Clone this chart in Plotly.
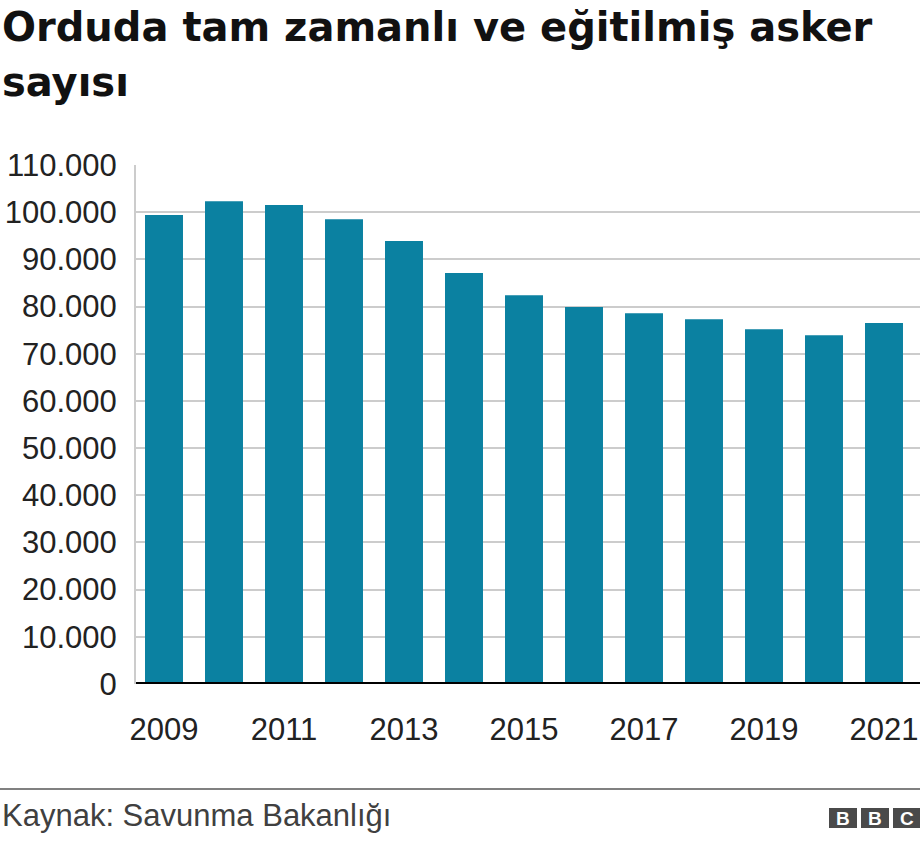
import plotly.graph_objects as go

# ---- data ----
years = [2009, 2010, 2011, 2012, 2013, 2014, 2015, 2016, 2017, 2018, 2019, 2020, 2021]
soldiers = [99400, 102300, 101500, 98500, 93900, 87100, 82400, 79900, 78600, 77300, 75200, 73900, 76500]
ytick_vals = [0, 10000, 20000, 30000, 40000, 50000, 60000, 70000, 80000, 90000, 100000, 110000]
ytick_text = ["0", "10.000", "20.000", "30.000", "40.000", "50.000", "60.000",
              "70.000", "80.000", "90.000", "100.000", "110.000"]
xtick_vals = [2009, 2011, 2013, 2015, 2017, 2019, 2021]
xtick_text = ["2009", "2011", "2013", "2015", "2017", "2019", "2021"]
title_line1 = "Orduda tam zamanlı ve eğitilmiş asker"
title_line2 = "sayısı"
source_text = "Kaynak: Savunma Bakanlığı"

# ---- layout geometry ----
W, H = 920, 844
L, R, T, B = 136, 0, 165, 160
PW, PH = W - L - R, H - T - B
FONT = "Liberation Sans, Arial, Helvetica, sans-serif"
TFONT = "DejaVu Sans, Liberation Sans, Arial, sans-serif"
BAR = "#0b81a1"


def px(x):
    return (x - L) / PW


def py(y):
    return (H - B - y) / PH


fig = go.Figure()
fig.add_trace(go.Bar(x=years, y=soldiers, marker=dict(color=BAR, line=dict(width=0)),
                     hoverinfo="x+y"))

fig.update_layout(
    width=W, height=H,
    margin=dict(l=L, r=R, t=T, b=B, autoexpand=False),
    paper_bgcolor="white", plot_bgcolor="white",
    bargap=0.367,
    showlegend=False,
    font=dict(family=FONT, color="#222222"),
    xaxis=dict(
        range=[years[0] - 0.4667, years[-1] + 0.6],
        tickmode="array", tickvals=xtick_vals, ticktext=xtick_text,
        tickfont=dict(size=31, color="#222222", family=FONT),
        showgrid=False, zeroline=False, showline=False,
        ticks="", ticklabelstandoff=24, automargin=False,
    ),
    yaxis=dict(
        range=[0, 110000],
        tickmode="array", tickvals=ytick_vals, ticktext=ytick_text,
        tickfont=dict(size=31, color="#222222", family=FONT),
        showgrid=True, gridcolor="#cccccc", gridwidth=2,
        zeroline=False, showline=True, linecolor="#cccccc", linewidth=2,
        ticks="", ticklabelstandoff=11, automargin=False,
    ),
)

shapes = [
    # baseline
    dict(type="line", xref="paper", yref="y", x0=0, x1=1, y0=0, y1=0,
         line=dict(color="black", width=4), layer="above"),
    # footer rule
    dict(type="line", xref="paper", yref="paper", x0=px(0), x1=px(W), y0=py(789), y1=py(789),
         line=dict(color="#808080", width=2), layer="above"),
]
# BBC logo boxes
for bx0, bx1 in [(829, 857), (861, 889), (893, 920)]:
    shapes.append(dict(type="rect", xref="paper", yref="paper",
                       x0=px(bx0), x1=px(bx1), y0=py(828), y1=py(808),
                       fillcolor="#4a4a4a", line=dict(width=0), layer="above"))
fig.update_layout(shapes=shapes)

annotations = [
    dict(text="<b>" + title_line1 + "</b>", x=px(0), y=py(27), xref="paper", yref="paper",
         xanchor="left", yanchor="middle", showarrow=False,
         font=dict(size=40, color="#111111", family=TFONT)),
    dict(text="<b>" + title_line2 + "</b>", x=px(0), y=py(82), xref="paper", yref="paper",
         xanchor="left", yanchor="middle", showarrow=False,
         font=dict(size=40, color="#111111", family=TFONT)),
    dict(text=source_text, x=px(0), y=py(815), xref="paper", yref="paper",
         xanchor="left", yanchor="middle", showarrow=False,
         font=dict(size=31, color="#404040", family=FONT)),
]
for cx, letter in [(843, "B"), (875, "B"), (906.5, "C")]:
    annotations.append(dict(text="<b>" + letter + "</b>", x=px(cx), y=py(818.5),
                            xref="paper", yref="paper", xanchor="center", yanchor="middle",
                            showarrow=False, font=dict(size=19, color="white", family=FONT)))
fig.update_layout(annotations=annotations)

fig.write_html("out.html")
